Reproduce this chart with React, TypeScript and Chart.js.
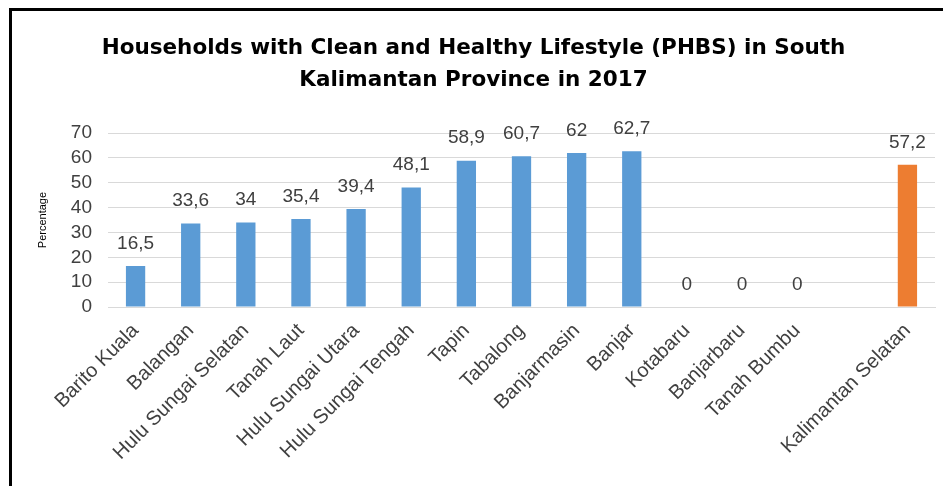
import React, { useEffect, useRef } from "react";
import { Chart, registerables } from "chart.js";

Chart.register(...registerables);

const categories: string[] = [
  "Barito Kuala",
  "Balangan",
  "Hulu Sungai Selatan",
  "Tanah Laut",
  "Hulu Sungai Utara",
  "Hulu Sungai Tengah",
  "Tapin",
  "Tabalong",
  "Banjarmasin",
  "Banjar",
  "Kotabaru",
  "Banjarbaru",
  "Tanah Bumbu",
  "",
  "Kalimantan Selatan",
];

const values: (number | null)[] = [
  16.5, 33.6, 34, 35.4, 39.4, 48.1, 58.9, 60.7, 62, 62.7, 0, 0, 0, null, 57.2,
];

const provinceLabel = "Kalimantan Selatan";

const titleLines: string[] = [
  "Households with Clean and Healthy Lifestyle (PHBS) in South",
  "Kalimantan Province in 2017",
];

const yTitle = "Percentage";
const yMin = 0;
const yMax = 70;
const yStep = 10;

const BLUE = "#5B9BD5";
const ORANGE = "#ED7D31";
const TEXT = "#404040";
const FONT = "Arial, 'Liberation Sans', sans-serif";

const valueLabels = {
  id: "valueLabels",
  afterDatasetsDraw(chart: any) {
    const ctx = chart.ctx;
    const meta = chart.getDatasetMeta(0);
    ctx.save();
    ctx.font = "19px " + FONT;
    ctx.fillStyle = TEXT;
    ctx.textAlign = "center";
    ctx.textBaseline = "bottom";
    meta.data.forEach((bar: any, i: number) => {
      const v = values[i];
      if (v === null || v === undefined) return;
      ctx.fillText(String(v).replace(".", ","), bar.x, bar.y - 13);
    });
    ctx.restore();
  },
};

export default function App() {
  const ref = useRef<HTMLCanvasElement | null>(null);

  useEffect(() => {
    if (!ref.current) return;
    const chart = new Chart(ref.current, {
      type: "bar",
      data: {
        labels: categories,
        datasets: [
          {
            data: values as any,
            backgroundColor: categories.map((c) => (c === provinceLabel ? ORANGE : BLUE)),
            barPercentage: 0.35,
            categoryPercentage: 1,
          },
        ],
      },
      options: {
        animation: false,
        responsive: false,
        layout: { padding: { left: 0, right: 8, top: 0, bottom: 0 } },
        plugins: {
          legend: { display: false },
          tooltip: { enabled: false },
          title: {
            display: true,
            text: titleLines,
            color: "#000000",
            font: { family: "'DejaVu Sans', Verdana, sans-serif", size: 21.5, weight: "bold", lineHeight: 1.49 },
            padding: { top: 21, bottom: 37 },
          },
        },
        scales: {
          x: {
            grid: { display: false },
            border: { display: true, color: "#D9D9D9" },
            ticks: {
              color: TEXT,
              font: { family: FONT, size: 20 },
              minRotation: 45,
              maxRotation: 45,
              autoSkip: false,
              padding: 4,
            },
            afterFit(scale: any) {
              scale.height = 179;
            },
          },
          y: {
            min: yMin,
            max: yMax,
            grid: { color: "#D9D9D9", drawTicks: false },
            border: { display: false },
            ticks: {
              stepSize: yStep,
              autoSkip: false,
              color: TEXT,
              font: { family: FONT, size: 19, lineHeight: 1 },
              padding: 16,
            },
            title: {
              display: true,
              text: yTitle,
              color: "#000000",
              font: { family: FONT, size: 11 },
              padding: { top: 24, bottom: 0 },
            },
            afterFit(scale: any) {
              scale.width = 96;
            },
          },
        },
      },
      plugins: [valueLabels],
    });
    return () => chart.destroy();
  }, []);

  return (
    <div
      style={{
        position: "fixed",
        left: 9,
        top: 8,
        width: 960,
        height: 520,
        border: "3px solid #000",
        background: "#fff",
      }}
    >
      <canvas ref={ref} width={931} height={475} style={{ display: "block" }} />
    </div>
  );
}
